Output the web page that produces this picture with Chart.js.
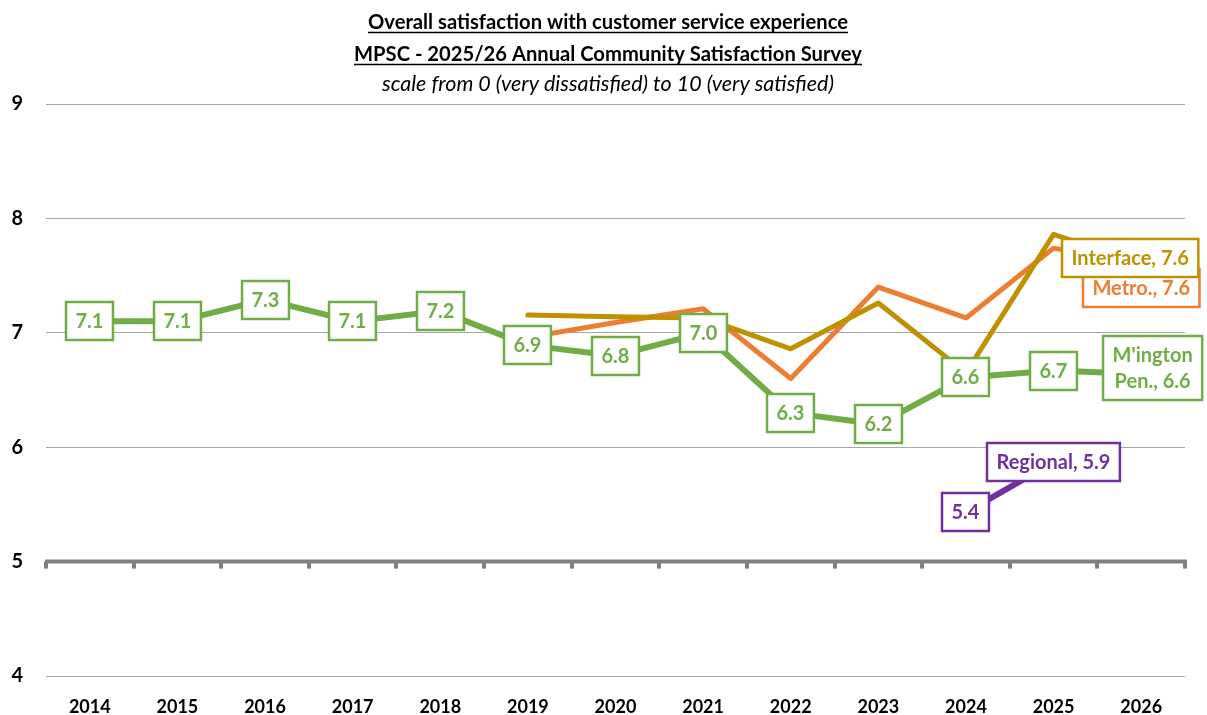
<!DOCTYPE html>
<html>
<head>
<meta charset="utf-8">
<script src="https://cdn.jsdelivr.net/npm/chart.js@4.4.1/dist/chart.umd.min.js"></script>
<style>
    html,body { margin:0; padding:0; background:#fff; }
    #wrap { width:1207px; height:715px; position:relative; }
</style>
</head>
<body>
<div id="wrap"><canvas id="chart"></canvas></div>
<script>
// Chart data
const years = ['2014','2015','2016','2017','2018','2019','2020','2021','2022','2023','2024','2025','2026'];
const mington = [7.1,7.1,7.29,7.1,7.19,6.89,6.8,7.0,6.3,6.2,6.61,6.67,6.64];
const metro = [null,null,null,null,null,6.96,7.09,7.21,6.6,7.4,7.13,7.74,7.6];
const interfaceVals = [null,null,null,null,null,7.155,7.14,7.13,6.86,7.26,6.65,7.86,7.6];
const regional = [null,null,null,null,null,null,null,null,null,null,5.43,5.87,null];
const yTicks = [4,5,6,7,8,9];

const titleLines = [
    'Overall satisfaction with customer service experience',
    'MPSC - 2025/26 Annual Community Satisfaction Survey'
];
const subTitle = 'scale from 0 (very dissatisfied) to 10 (very satisfied)';

const FONT = 'Lato, "Open Sans", sans-serif';
const GREEN = '#70AD47';
const ORANGE = '#ED7D31';
const GOLD = '#BF9000';
const PURPLE = '#7030A0';

// Which points get a boxed data label, and how
const labelSpecs = [
    { ds: 3, color: ORANGE, points: 'last', name: 'Metro.', dx: 0, dy: 24 },
    { ds: 2, color: GOLD, points: 'last', name: 'Interface', dx: -11, dy: -6 },
    { ds: 1, color: PURPLE, points: 'all', name: 'Regional', dx: 0, dy: 0 },
    { ds: 0, color: GREEN, points: 'all', name: "M'ington|Pen.", dx: 11, dy: -6 }
];

const drawBox = (ctx,cx,cy,lines,color) =>
{
    ctx.save();
    ctx.font = 'bold 20px ' + FONT;
    const lh = 26;
    const padX = 9.5;
    const padY = 6;
    const w = Math.max(...lines.map(l => ctx.measureText(l).width)) + padX * 2;
    const h = lines.length * lh + padY * 2;
    const x0 = Math.round(cx - w / 2);
    const y0 = Math.round(cy - h / 2);
    ctx.fillStyle = '#ffffff';
    ctx.fillRect(x0,y0,w,h);
    ctx.strokeStyle = color;
    ctx.lineWidth = 2.5;
    ctx.strokeRect(x0,y0,w,h);
    ctx.fillStyle = color;
    ctx.textAlign = 'center';
    ctx.textBaseline = 'middle';
    lines.forEach((l,i) =>
    {
        ctx.fillText(l,x0 + w / 2,y0 + padY + lh * i + lh / 2 + 1);
    });
    ctx.restore();
};

const dataLabelPlugin = {
    id: 'boxLabels',
    afterDatasetsDraw(chart)
    {
        const ctx = chart.ctx;
        labelSpecs.forEach(spec =>
        {
            const meta = chart.getDatasetMeta(spec.ds);
            const data = chart.data.datasets[spec.ds].data;
            let lastIdx = -1;
            data.forEach((v,i) => { if (v !== null) lastIdx = i; });
            data.forEach((v,i) =>
            {
                if (v === null) return;
                const pt = meta.data[i];
                const isLast = i === lastIdx;
                if (spec.points === 'last' && !isLast) return;
                let lines;
                if (isLast)
                {
                    const parts = spec.name.split('|');
                    if (parts.length > 1) lines = [parts[0],parts[1] + ', ' + v.toFixed(1)];
                    else lines = [spec.name + ', ' + v.toFixed(1)];
                }
                else lines = [v.toFixed(1)];
                const dx = isLast ? spec.dx : 0;
                const dy = isLast ? spec.dy : 0;
                drawBox(ctx,pt.x + dx,pt.y + dy,lines,spec.color);
            });
        });
    }
};

// Thick horizontal axis at 5 with category tick marks
const crossAxisPlugin = {
    id: 'crossAxis',
    beforeDatasetsDraw(chart)
    {
        const ctx = chart.ctx;
        const xs = chart.scales.x;
        const ys = chart.scales.y;
        const y = ys.getPixelForValue(5);
        ctx.save();
        ctx.strokeStyle = '#808080';
        ctx.fillStyle = '#808080';
        ctx.lineWidth = 4;
        ctx.beginPath();
        ctx.moveTo(xs.left - 1,y);
        ctx.lineTo(xs.right + 2,y);
        ctx.stroke();
        const bounds = [xs.left];
        for (let i = 1; i < years.length; i++)
        {
            bounds.push((xs.getPixelForValue(i - 1) + xs.getPixelForValue(i)) / 2);
        }
        bounds.push(xs.right);
        bounds.forEach(bx =>
        {
            ctx.fillRect(Math.round(bx) - 2,y,4,7);
        });
        ctx.restore();
    }
};

const titlePlugin = {
    id: 'underlinedTitle',
    afterDraw(chart)
    {
        const ctx = chart.ctx;
        const cx = 608;
        ctx.save();
        ctx.fillStyle = '#000';
        ctx.strokeStyle = '#000';
        ctx.textAlign = 'center';
        ctx.textBaseline = 'alphabetic';
        ctx.font = 'bold 20.2px ' + FONT;
        const baselines = [29,61];
        titleLines.forEach((t,i) =>
        {
            ctx.fillText(t,cx,baselines[i]);
            const w = ctx.measureText(t).width;
            ctx.lineWidth = 1.6;
            ctx.beginPath();
            ctx.moveTo(cx - w / 2,baselines[i] + 3.5);
            ctx.lineTo(cx + w / 2,baselines[i] + 3.5);
            ctx.stroke();
        });
        ctx.font = 'italic 21.5px ' + FONT;
        ctx.fillText(subTitle,cx,91);
        ctx.restore();
    }
};

const initChart = () =>
{
    const ctx = document.getElementById('chart').getContext('2d');
    return new Chart(ctx,{
        type: 'line',
        data: {
            labels: years,
            datasets: [
                { label: "M'ington Pen.", data: mington, borderColor: GREEN, borderWidth: 6 },
                { label: 'Regional', data: regional, borderColor: PURPLE, borderWidth: 6 },
                { label: 'Interface', data: interfaceVals, borderColor: GOLD, borderWidth: 5 },
                { label: 'Metro.', data: metro, borderColor: ORANGE, borderWidth: 5 }
            ]
        },
        options: {
            responsive: true,
            maintainAspectRatio: false,
            animation: false,
            spanGaps: false,
            elements: {
                point: { radius: 0, hoverRadius: 0 },
                line: { tension: 0, borderCapStyle: 'round', borderJoinStyle: 'round', fill: false }
            },
            layout: { padding: { top: 104, right: 22, left: 0, bottom: 0 } },
            scales: {
                x: {
                    offset: true,
                    grid: { display: false, drawTicks: false },
                    border: { display: false },
                    ticks: {
                        color: '#000',
                        font: { family: FONT, size: 18, weight: 'bold' },
                        padding: 20,
                        maxRotation: 0
                    },
                    afterFit: (scale) => { scale.height = 39; }
                },
                y: {
                    min: 4,
                    max: 9,
                    afterBuildTicks: (scale) => { scale.ticks = yTicks.map(v => ({ value: v })); },
                    grid: {
                        drawTicks: false,
                        color: (c) => c.tick && c.tick.value === 5 ? 'rgba(0,0,0,0)' : '#a6a6a6',
                        lineWidth: 1
                    },
                    border: { display: false },
                    ticks: {
                        color: '#000',
                        font: { family: FONT, size: 20, weight: 'bold' },
                        padding: 23
                    },
                    afterFit: (scale) => { scale.width = 46; }
                }
            },
            plugins: {
                legend: { display: false },
                title: { display: false },
                tooltip: { enabled: false }
            }
        },
        plugins: [crossAxisPlugin,dataLabelPlugin,titlePlugin]
    });
};

document.addEventListener('DOMContentLoaded',() =>
{
    initChart();
});
</script>
</body>
</html>
